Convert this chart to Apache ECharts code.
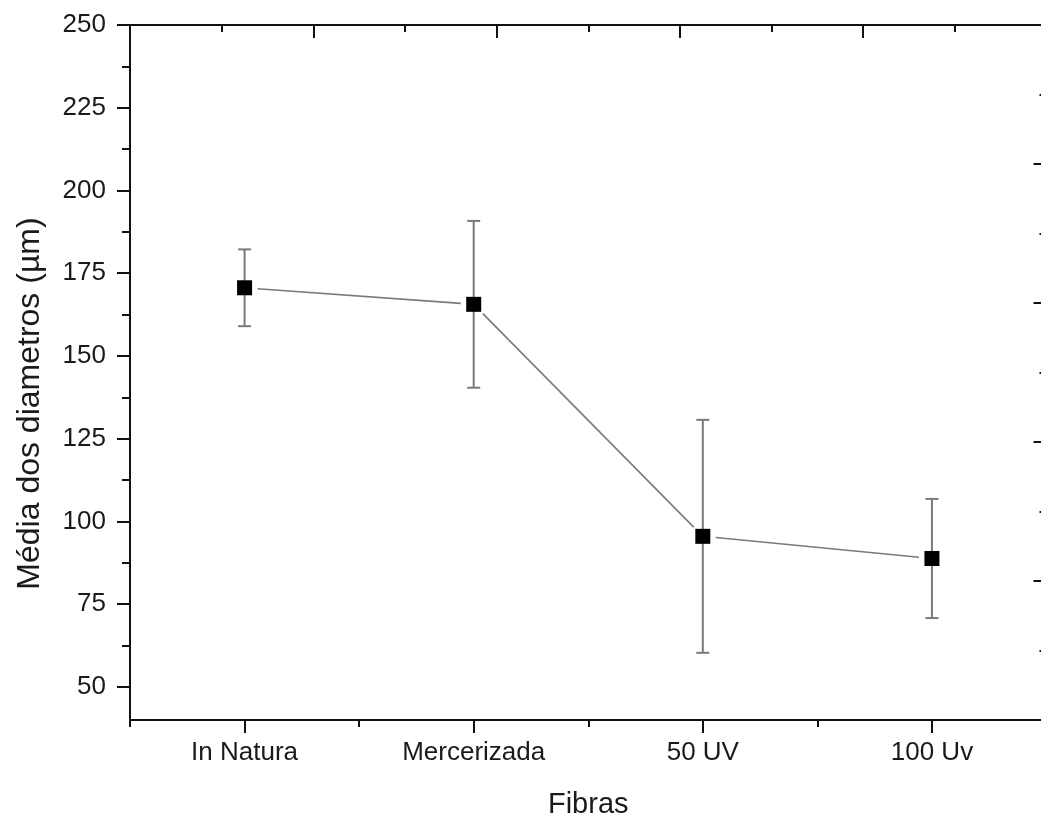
<!DOCTYPE html>
<html>
<head>
<meta charset="utf-8">
<script src="https://cdn.jsdelivr.net/npm/echarts@6/dist/echarts.min.js"></script>
<style>html,body{margin:0;padding:0;background:#fff;}#chart{width:1041px;height:819px;}</style>
</head>
<body>
<div id="chart"></div>
<script>
const categories = ['In Natura', 'Mercerizada', '50 UV', '100 Uv'];
const means = [170.6, 165.6, 95.5, 88.8];
const errors = [11.6, 25.2, 35.2, 18.0];
const yTickValues = [50, 75, 100, 125, 150, 175, 200, 225, 250];
const yMinorTickValues = [62.5, 87.5, 112.5, 137.5, 162.5, 187.5, 212.5, 237.5];

const FONT = '"Liberation Sans", Arial, sans-serif';
const TXT = '#1a1a1a';
const AX = '#111';

const pointData = means.map((v, i) => [i, v]);
const errData = means.map((v, i) => [i, v - errors[i], v + errors[i]]);
const segData = means.slice(0, -1).map((v, i) => [i, v, i + 1, means[i + 1]]);

const chart = echarts.init(document.getElementById('chart'), null, {renderer: 'canvas'});
chart.setOption({
  animation: false,
  backgroundColor: '#fff',
  grid: {left: 130, top: 25, width: 916.5, height: 695, containLabel: false, outerBoundsMode: 'none'},
  xAxis: [
    {
      type: 'category', data: categories, position: 'bottom', boundaryGap: true,
      name: 'Fibras', nameLocation: 'middle', nameGap: 70,
      nameTextStyle: {fontFamily: FONT, fontSize: 29, color: TXT},
      axisLine: {show: true, lineStyle: {color: AX, width: 2}},
      axisTick: {show: true, alignWithLabel: true, inside: false, length: 13, lineStyle: {color: AX, width: 2}},
      axisLabel: {show: true, margin: 20, fontFamily: FONT, fontSize: 26, color: TXT, interval: 0},
      splitLine: {show: false}
    },
    {
      type: 'category', data: categories, position: 'bottom', boundaryGap: true,
      axisLine: {show: false},
      axisTick: {show: true, alignWithLabel: false, inside: false, length: 7, interval: 0, lineStyle: {color: AX, width: 2}},
      axisLabel: {show: false},
      splitLine: {show: false}
    },
    {
      type: 'value', position: 'top', min: 0, max: 5, interval: 1,
      axisLine: {show: true, lineStyle: {color: AX, width: 2}},
      axisTick: {show: true, inside: true, length: 13, lineStyle: {color: AX, width: 2}},
      minorTick: {show: true, splitNumber: 2, length: 7, lineStyle: {color: AX, width: 2}},
      axisLabel: {show: false},
      splitLine: {show: false}
    }
  ],
  yAxis: [
    {
      type: 'value', position: 'left', min: 40, max: 250,
      name: 'Média dos diametros (µm)', nameLocation: 'middle', nameGap: 84,
      nameTextStyle: {fontFamily: FONT, fontSize: 32, color: TXT, padding: [0, 62, 0, 0]},
      axisLine: {show: true, lineStyle: {color: AX, width: 2}},
      axisTick: {show: true, inside: false, length: 13, customValues: yTickValues, lineStyle: {color: AX, width: 2}},
      axisLabel: {show: true, margin: 24, fontFamily: FONT, fontSize: 26, color: TXT, customValues: yTickValues},
      splitLine: {show: false}
    },
    {
      type: 'value', position: 'left', min: 40, max: 250,
      axisLine: {show: false},
      axisTick: {show: true, inside: false, length: 8, customValues: yMinorTickValues, lineStyle: {color: AX, width: 2}},
      axisLabel: {show: false},
      splitLine: {show: false}
    },
    {
      type: 'value', position: 'right', min: 0, max: 5, interval: 1,
      axisLine: {show: true, lineStyle: {color: AX, width: 2}},
      axisTick: {show: true, inside: true, length: 13, lineStyle: {color: AX, width: 2}},
      minorTick: {show: true, splitNumber: 2, length: 7, lineStyle: {color: AX, width: 2}},
      axisLabel: {show: false},
      splitLine: {show: false}
    }
  ],
  series: [
    {
      type: 'custom', xAxisIndex: 0, yAxisIndex: 0, data: segData, z: 2,
      renderItem: function (params, api) {
        const p1 = api.coord([api.value(0), api.value(1)]);
        const p2 = api.coord([api.value(2), api.value(3)]);
        const dx = p2[0] - p1[0], dy = p2[1] - p1[1];
        const L = Math.sqrt(dx * dx + dy * dy);
        const g = 13;
        const ux = dx / L, uy = dy / L;
        return {
          type: 'line',
          shape: {x1: p1[0] + ux * g, y1: p1[1] + uy * g, x2: p2[0] - ux * g, y2: p2[1] - uy * g},
          style: {stroke: '#7a7a7a', lineWidth: 1.6}
        };
      }
    },
    {
      type: 'custom', xAxisIndex: 0, yAxisIndex: 0, data: errData, z: 3,
      renderItem: function (params, api) {
        const x = api.value(0);
        const lo = api.coord([x, api.value(1)]);
        const hi = api.coord([x, api.value(2)]);
        const hw = 6.5;
        const st = {stroke: '#7a7a7a', lineWidth: 2};
        return {
          type: 'group',
          children: [
            {type: 'line', shape: {x1: lo[0], y1: lo[1], x2: hi[0], y2: hi[1]}, style: st},
            {type: 'line', shape: {x1: lo[0] - hw, y1: lo[1], x2: lo[0] + hw, y2: lo[1]}, style: st},
            {type: 'line', shape: {x1: hi[0] - hw, y1: hi[1], x2: hi[0] + hw, y2: hi[1]}, style: st}
          ]
        };
      }
    },
    {
      type: 'scatter', xAxisIndex: 0, yAxisIndex: 0, data: pointData, z: 5,
      symbol: 'rect', symbolSize: 15,
      itemStyle: {color: '#000', opacity: 1, borderWidth: 0}
    }
  ]
});
</script>
</body>
</html>
